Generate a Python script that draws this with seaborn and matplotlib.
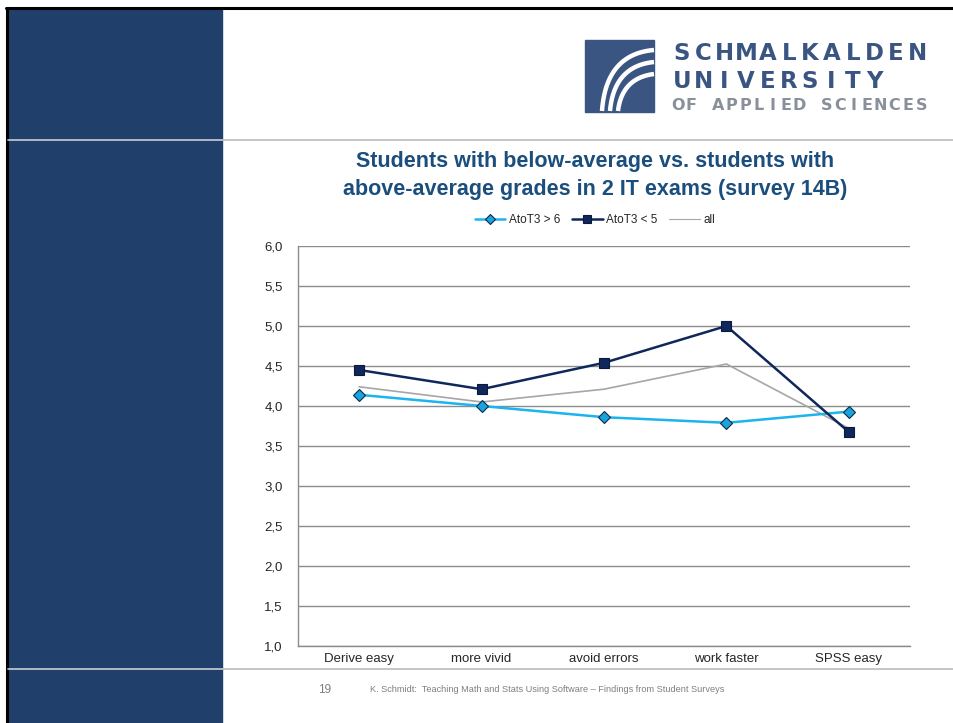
import matplotlib
matplotlib.use("Agg")
import matplotlib.pyplot as plt
import matplotlib.patches as mpatches
from matplotlib.lines import Line2D
import numpy as np
import pandas as pd
import seaborn as sns

categories = ["Derive easy", "more vivid", "avoid errors", "work faster", "SPSS easy"]
above6 = [4.14, 4.00, 3.86, 3.79, 3.93]   # AtoT3 > 6
below5 = [4.45, 4.21, 4.54, 5.00, 3.675]  # AtoT3 < 5
allv = [4.24, 4.05, 4.21, 4.525, 3.72]    # all
series_names = ["AtoT3 > 6", "AtoT3 < 5", "all"]
yticks = [1.0, 1.5, 2.0, 2.5, 3.0, 3.5, 4.0, 4.5, 5.0, 5.5, 6.0]

sns.set_style("white")
plt.rcParams["font.family"] = ["Liberation Sans", "DejaVu Sans"]

W, H = 954, 723
fig = plt.figure(figsize=(W / 100, H / 100), dpi=100)

def fx(x):
    return np.asarray(x) / W

def fy(y):
    return 1 - np.asarray(y) / H

# slide decoration
fig.patches.append(mpatches.Rectangle((fx(8), 0), fx(214), fy(8), transform=fig.transFigure,
                                      color="#213F6B", zorder=0))
fig.add_artist(Line2D([fx(7), fx(7)], [0, fy(8)], color="black", lw=2.2, transform=fig.transFigure))
fig.add_artist(Line2D([fx(6), 1], [fy(8), fy(8)], color="black", lw=2.2, transform=fig.transFigure))
for yy in (140, 669):
    fig.add_artist(Line2D([fx(8), fx(222)], [fy(yy), fy(yy)], color="#C8CDD6", lw=1.2,
                          transform=fig.transFigure))
    fig.add_artist(Line2D([fx(222), 1], [fy(yy), fy(yy)], color="#BBBBBB", lw=1.2,
                          transform=fig.transFigure))

# logo
fig.patches.append(mpatches.Rectangle((fx(585), fy(112)), fx(69), 72 / H, transform=fig.transFigure,
                                      color="#3A5582", zorder=1))
s = np.linspace(0, 1, 60)
for k in range(3):
    x0, y0 = 602 + 8 * k, 111
    x2, y2 = 654, 50 + 12 * k
    cx, cy = x0 + 4, y2 + 4
    xs = (1 - s) ** 2 * x0 + 2 * (1 - s) * s * cx + s ** 2 * x2
    ys = (1 - s) ** 2 * y0 + 2 * (1 - s) * s * cy + s ** 2 * y2
    fig.add_artist(Line2D(fx(xs), fy(ys), color="white", lw=3.2, transform=fig.transFigure,
                          solid_capstyle="butt", zorder=2))

def spaced(text, x0, x1, y, size, color, weight):
    step = (x1 - x0) / len(text)
    for i, ch in enumerate(text):
        fig.text(fx(x0 + step * (i + 0.5)), fy(y), ch, fontsize=size, fontweight=weight,
                 color=color, ha="center", va="center", family="DejaVu Sans")

spaced("SCHMALKALDEN", 671, 928, 53, 16.5, "#3A5582", "bold")
spaced("UNIVERSITY", 671, 885, 81, 16.5, "#3A5582", "bold")
spaced("OF APPLIED SCIENCES", 671, 928, 106, 11.5, "#8A9099", "semibold")

# title
fig.text(fx(595), fy(162), "Students with below-average vs. students with",
         fontsize=15.5, fontweight="bold", color="#1B4E7D", ha="center", va="center")
fig.text(fx(595), fy(190), "above-average grades in 2 IT exams (survey 14B)",
         fontsize=15.5, fontweight="bold", color="#1B4E7D", ha="center", va="center")

# footer
fig.text(fx(325), fy(690), "19", fontsize=8.5, color="#7F7F7F", ha="center", va="center")
fig.text(fx(370), fy(689), "K. Schmidt:  Teaching Math and Stats Using Software \u2013 Findings from Student Surveys",
         fontsize=6.6, color="#7F7F7F", ha="left", va="center")

# chart
ax = fig.add_axes([fx(298), fy(646), fx(910) - fx(298), 400 / H])
x = np.arange(len(categories))
df = pd.DataFrame({"x": np.tile(x, 3),
                   "y": above6 + below5 + allv,
                   "series": np.repeat(series_names, len(categories))})

sns.lineplot(data=df[df.series == "all"], x="x", y="y", ax=ax, color="#A6A6A6", lw=1.2,
             label="all", zorder=3)
sns.lineplot(data=df[df.series == "AtoT3 > 6"], x="x", y="y", ax=ax, color="#1CB4EC", lw=1.8,
             marker="D", markersize=6.5, markerfacecolor="#1BA3DD", markeredgecolor="#0B2A4A",
             markeredgewidth=0.8, label="AtoT3 > 6", zorder=4)
sns.lineplot(data=df[df.series == "AtoT3 < 5"], x="x", y="y", ax=ax, color="#10275C", lw=1.8,
             marker="s", markersize=7.5, markerfacecolor="#10275C", markeredgecolor="#0A1A3C",
             markeredgewidth=0.8, label="AtoT3 < 5", zorder=5)

ax.set_xlim(-0.5, len(categories) - 0.5)
ax.set_ylim(1.0, 6.0)
ax.set_yticks(yticks)
ax.set_yticklabels([f"{v:.1f}".replace(".", ",") for v in yticks], fontsize=9.5)
ax.set_xticks(np.arange(-0.5, len(categories), 1.0))
ax.set_xticklabels([])
ax.set_xticks(x, minor=True)
ax.set_xticklabels(categories, minor=True, fontsize=9.5)
ax.tick_params(axis="x", which="minor", length=0, pad=5)
ax.tick_params(axis="x", which="major", length=4, color="#888888", direction="out")
ax.tick_params(axis="y", length=5, color="#888888", direction="out", pad=6)
ax.set_xlabel("")
ax.set_ylabel("")
ax.grid(axis="y", color="#8C8C8C", lw=1.0)
ax.set_axisbelow(True)
for sp in ("top", "right"):
    ax.spines[sp].set_visible(False)
for sp in ("left", "bottom"):
    ax.spines[sp].set_color("#8C8C8C")
    ax.spines[sp].set_linewidth(1.0)

handles, labels = ax.get_legend_handles_labels()
order = [labels.index(n) for n in series_names]
leg = ax.legend([handles[i] for i in order], [labels[i] for i in order],
                loc="center", bbox_to_anchor=(fx(595), fy(220)), bbox_transform=fig.transFigure,
                ncol=3, frameon=False, fontsize=8.5, handlelength=2.6, columnspacing=1.0,
                handletextpad=0.3, markerscale=0.8)
leg.legend_handles[2].set_linewidth(0.8)

fig.savefig("out.png", dpi=100)
